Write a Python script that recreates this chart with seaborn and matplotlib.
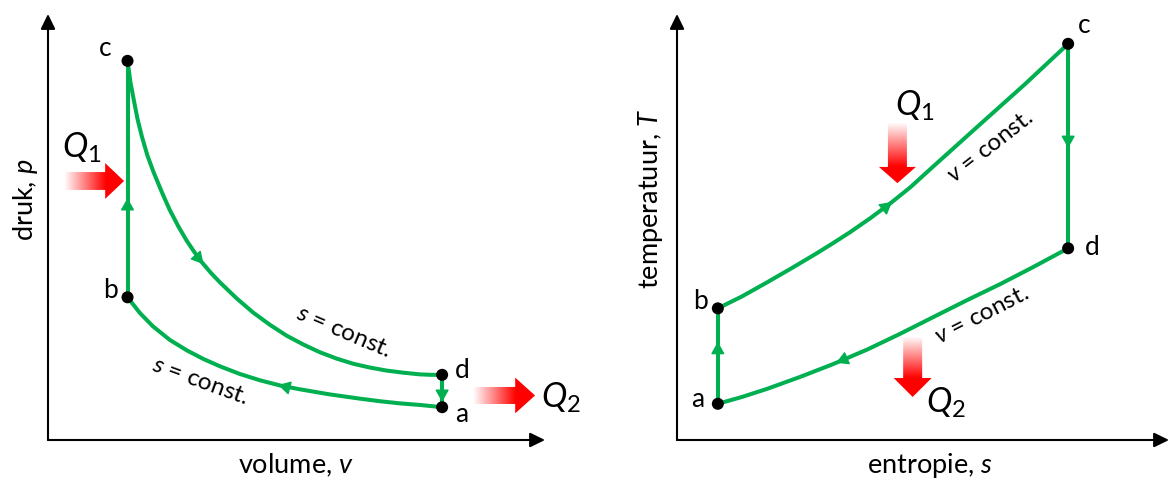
import numpy as np
import matplotlib
matplotlib.use('Agg')
import matplotlib.pyplot as plt
import seaborn as sns
from matplotlib.patches import Polygon

# Otto cycle: p-v diagram (left) and T-s diagram (right)
# values, arbitrary units (0..10 on every axis)

# --- p-v diagram ---
pv_ab_v = [7.93, 7.51, 7.08, 6.68, 6.28, 5.67, 5.07, 4.67, 4.27, 3.86, 3.46,
           3.13, 2.80, 2.45, 2.11, 1.85, 1.60]
pv_ab_p = [0.77, 0.82, 0.86, 0.91, 0.97, 1.07, 1.19, 1.28, 1.40, 1.55, 1.73,
           1.90, 2.10, 2.35, 2.67, 2.98, 3.35]
pv_bc_v = [1.60, 1.60]
pv_bc_p = [3.35, 8.90]
pv_cd_v = [1.60, 1.66, 1.72, 1.80, 1.89, 2.00, 2.12, 2.29, 2.45, 2.62, 2.79,
           2.94, 3.09, 3.28, 3.46, 3.80, 4.13, 4.47, 4.80, 5.14, 5.47, 5.81,
           6.14, 6.48, 6.81, 7.15, 7.49, 7.70, 7.93]
pv_cd_p = [8.90, 8.39, 8.02, 7.54, 7.12, 6.68, 6.30, 5.82, 5.40, 5.02, 4.68,
           4.42, 4.18, 3.92, 3.70, 3.32, 2.99, 2.70, 2.45, 2.24, 2.06, 1.91,
           1.79, 1.70, 1.63, 1.58, 1.54, 1.53, 1.53]
pv_da_v = [7.93, 7.93]
pv_da_p = [1.53, 0.77]
pv_state = ['a', 'b', 'c', 'd']
pv_state_v = [7.93, 1.60, 1.60, 7.93]
pv_state_p = [0.77, 3.35, 8.90, 1.53]

# --- T-s diagram ---
ts_ab_s = [0.83, 0.83]
ts_ab_T = [0.85, 3.09]
ts_bc_s = [0.83, 1.32, 1.83, 2.34, 2.85, 3.17, 3.52, 3.92, 4.33, 4.74, 5.14,
           5.65, 6.16, 7.07, 7.95]
ts_bc_T = [3.09, 3.37, 3.70, 4.04, 4.39, 4.62, 4.88, 5.20, 5.55, 5.93, 6.35,
           6.88, 7.41, 8.35, 9.30]
ts_cd_s = [7.95, 7.95]
ts_cd_T = [9.30, 4.50]
ts_da_s = [7.95, 7.24, 6.57, 5.89, 5.20, 4.53, 3.86, 3.17, 2.50, 1.83, 1.32, 0.83]
ts_da_T = [4.50, 4.06, 3.66, 3.28, 2.88, 2.49, 2.12, 1.78, 1.48, 1.20, 1.01, 0.85]
ts_state = ['a', 'b', 'c', 'd']
ts_state_s = [0.83, 0.83, 7.95, 7.95]
ts_state_T = [0.85, 3.09, 9.30, 4.50]

GREEN = '#00B050'
RED = '#FF0000'

sns.set_theme(style='white')
plt.rcParams['font.family'] = ['Lato', 'DejaVu Sans']
plt.rcParams['text.color'] = 'black'
plt.rcParams['mathtext.fontset'] = 'custom'
plt.rcParams['mathtext.it'] = 'Lato:italic'
plt.rcParams['mathtext.rm'] = 'Lato'

LABEL_FS = 19.5
STATE_FS = 19
NOTE_FS = 17.5
Q_FS = 24.5


def axis_arrows(ax):
    kw = dict(arrowstyle='-|>,head_length=0.45,head_width=0.22', lw=1.5,
              color='black', mutation_scale=20, shrinkA=0, shrinkB=0)
    ax.annotate('', xy=(10, 0), xytext=(0, 0), arrowprops=kw, annotation_clip=False)
    ax.annotate('', xy=(0, 10), xytext=(0, 0), arrowprops=kw, annotation_clip=False)


def flow_arrow(ax, xs, ys, i, f):
    # small arrow head on segment i of a path, tip at fraction f
    x0, y0, x1, y1 = xs[i], ys[i], xs[i + 1], ys[i + 1]
    tip = (x0 + f * (x1 - x0), y0 + f * (y1 - y0))
    p0 = ax.transData.transform((x0, y0))
    p1 = ax.transData.transform((x1, y1))
    d = (p1 - p0) / np.hypot(*(p1 - p0))
    tail = ax.transData.inverted().transform(ax.transData.transform(tip) - d * 14)
    ax.annotate('', xy=tip, xytext=tail,
                arrowprops=dict(arrowstyle='-|>,head_length=0.75,head_width=0.42',
                                color=GREEN, lw=1, mutation_scale=10,
                                shrinkA=0, shrinkB=0), zorder=4)


def heat_arrow(ax, tail, base, tip, c, hs, hh, horizontal=True):
    if horizontal:
        verts = [(tail, c - hs), (base, c - hs), (base, c - hh), (tip, c),
                 (base, c + hh), (base, c + hs), (tail, c + hs)]
        t = np.linspace(tail, tip, 300)
        a = np.clip((t - tail) / (base - tail), 0, 1)
        img = np.zeros((2, 300, 4))
        img[..., 0] = 1.0
        img[..., 3] = a
        ext = [tail, tip, c - hh, c + hh]
    else:
        verts = [(c - hs, tail), (c - hs, base), (c - hh, base), (c, tip),
                 (c + hh, base), (c + hs, base), (c + hs, tail)]
        t = np.linspace(tip, tail, 300)
        a = np.clip((tail - t) / (tail - base), 0, 1)
        img = np.zeros((300, 2, 4))
        img[..., 0] = 1.0
        img[..., 3] = a[:, None]
        ext = [c - hh, c + hh, tip, tail]
    patch = Polygon(verts, closed=True, facecolor='none', edgecolor='none')
    ax.add_patch(patch)
    im = ax.imshow(img, extent=ext, origin='lower', aspect='auto',
                   interpolation='bilinear', zorder=2)
    im.set_clip_path(patch)


def draw_path(ax, xs, ys):
    sns.lineplot(x=xs, y=ys, sort=False, ax=ax, color=GREEN, linewidth=2.9,
                 estimator=None, solid_joinstyle='round', zorder=3)


fig = plt.figure(figsize=(11.69, 4.8), dpi=100)
ax1 = fig.add_axes([48 / 1169, 40 / 480, 497 / 1169, 426 / 480])
ax2 = fig.add_axes([677 / 1169, 40 / 480, 492 / 1169, 426 / 480])

for ax in (ax1, ax2):
    ax.set_xlim(0, 10)
    ax.set_ylim(0, 10)
    ax.set_axis_off()

# ---------------- p-v ----------------
for xs, ys in [(pv_ab_v, pv_ab_p), (pv_bc_v, pv_bc_p), (pv_cd_v, pv_cd_p), (pv_da_v, pv_da_p)]:
    draw_path(ax1, xs, ys)
sns.scatterplot(x=pv_state_v, y=pv_state_p, ax=ax1, color='black', s=75,
                edgecolor='none', zorder=5)
axis_arrows(ax1)
flow_arrow(ax1, pv_ab_v, pv_ab_p, 7, 0.1)
flow_arrow(ax1, pv_bc_v, pv_bc_p, 0, 0.42)
flow_arrow(ax1, pv_cd_v, pv_cd_p, 12, 0.2)
flow_arrow(ax1, pv_da_v, pv_da_p, 0, 0.84)

pv_lab_pos = {'a': (8.33, 0.59), 'b': (1.25, 3.52), 'c': (1.15, 9.20), 'd': (8.33, 1.64)}
for name in pv_state:
    ax1.text(*pv_lab_pos[name], name, fontsize=STATE_FS, ha='center', va='center')

ax1.text(5.94, 2.54, '$s$ = const.', fontsize=NOTE_FS, rotation=-23,
         ha='center', va='center')
ax1.text(3.06, 1.37, '$s$ = const.', fontsize=NOTE_FS, rotation=-20,
         ha='center', va='center')

heat_arrow(ax1, 0.32, 1.15, 1.53, 6.08, 0.21, 0.42, horizontal=True)
heat_arrow(ax1, 8.55, 9.40, 9.80, 1.045, 0.20, 0.42, horizontal=True)
ax1.text(0.68, 6.85, '$Q_1$', fontsize=Q_FS, ha='center', va='center')
ax1.text(10.32, 0.99, '$Q_2$', fontsize=Q_FS, ha='center', va='center')

ax1.text(-0.046, 0.563, 'druk, $p$', fontsize=LABEL_FS, rotation=90,
         ha='center', va='center', transform=ax1.transAxes)
ax1.text(0.5, -0.059, 'volume, $v$', fontsize=LABEL_FS,
         ha='center', va='center', transform=ax1.transAxes)

# ---------------- T-s ----------------
for xs, ys in [(ts_ab_s, ts_ab_T), (ts_bc_s, ts_bc_T), (ts_cd_s, ts_cd_T), (ts_da_s, ts_da_T)]:
    draw_path(ax2, xs, ys)
sns.scatterplot(x=ts_state_s, y=ts_state_T, ax=ax2, color='black', s=75,
                edgecolor='none', zorder=5)
axis_arrows(ax2)
flow_arrow(ax2, ts_ab_s, ts_ab_T, 0, 0.65)
flow_arrow(ax2, ts_bc_s, ts_bc_T, 8, 0.1)
flow_arrow(ax2, ts_cd_s, ts_cd_T, 0, 0.51)
flow_arrow(ax2, ts_da_s, ts_da_T, 6, 0.91)

ts_lab_pos = {'a': (0.43, 0.94), 'b': (0.47, 3.26), 'c': (8.27, 9.74), 'd': (8.43, 4.53)}
for name in ts_state:
    ax2.text(*ts_lab_pos[name], name, fontsize=STATE_FS, ha='center', va='center')

ax2.text(6.36, 6.88, '$v$ = const.', fontsize=NOTE_FS, rotation=38,
         ha='center', va='center')
ax2.text(6.19, 2.93, '$v$ = const.', fontsize=NOTE_FS, rotation=27,
         ha='center', va='center')

heat_arrow(ax2, 7.44, 6.41, 6.03, 4.48, 0.193, 0.376, horizontal=False)
heat_arrow(ax2, 2.42, 1.455, 1.01, 4.79, 0.193, 0.386, horizontal=False)
ax2.text(4.84, 7.84, '$Q_1$', fontsize=Q_FS, ha='center', va='center')
ax2.text(5.47, 0.87, '$Q_2$', fontsize=Q_FS, ha='center', va='center')

ax2.text(-0.053, 0.566, 'temperatuur, $T$', fontsize=LABEL_FS, rotation=90,
         ha='center', va='center', transform=ax2.transAxes)
ax2.text(0.514, -0.059, 'entropie, $s$', fontsize=LABEL_FS,
         ha='center', va='center', transform=ax2.transAxes)

for ax in (ax1, ax2):
    ax.set_xlim(0, 10)
    ax.set_ylim(0, 10)

fig.savefig('out.png', dpi=100)
plt.close(fig)
print("[Saved] out.png")
